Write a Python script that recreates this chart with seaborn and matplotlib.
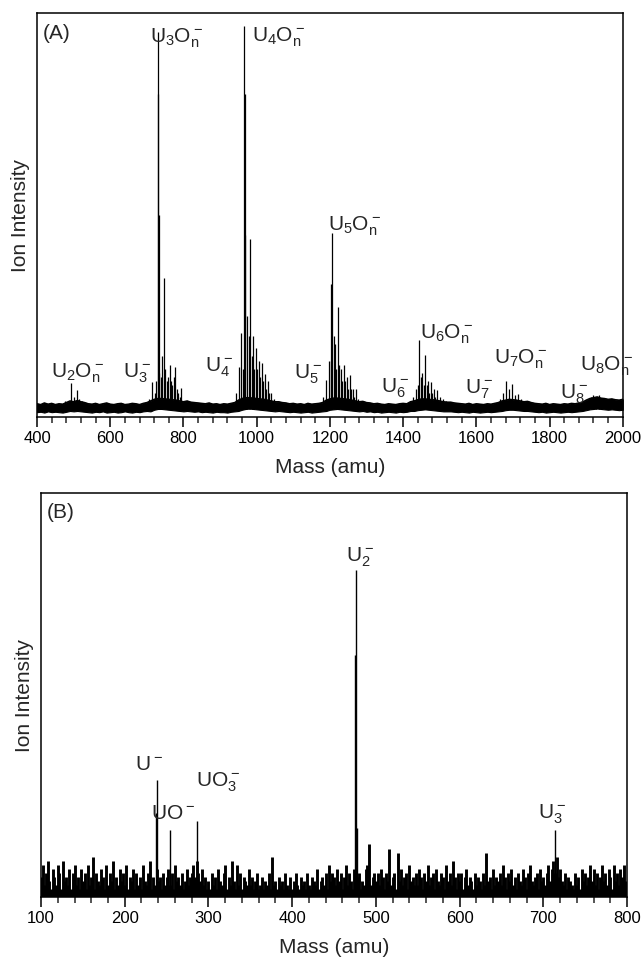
import matplotlib
matplotlib.use("Agg")
import numpy as np
import matplotlib.pyplot as plt
from matplotlib.ticker import MultipleLocator
import seaborn as sns

# ---- panel A : U_xO_n^- clusters (400-2000 amu) ----
# baseline band (lower / upper edge) read every 10 amu, units of 0.001 of full scale
a_base_mass = list(range(400, 2001, 10))
a_base_lo = [12, 13, 11, 14, 12, 13, 12, 11,
             13, 15, 14, 15, 14, 13,
             12, 11, 13, 12, 14, 11, 12, 13, 11, 12, 14, 12, 11, 13, 12, 14, 15,
             14, 18, 20, 20, 19, 18, 17, 16, 15, 14,
             15, 14, 13, 14, 12, 13, 12, 11, 13, 12, 12, 11, 13, 14,
             15, 18, 20, 21, 20, 19, 18, 17, 16, 15, 14,
             15, 14, 13, 12, 13, 12, 11, 12, 13, 11, 12, 13, 14,
             15, 18, 19, 20, 19, 18, 17, 16, 15, 14,
             15, 13, 14, 12, 13, 11, 12, 13, 12, 11, 13, 12, 13, 15,
             15, 17, 18, 19, 18, 17, 16, 15, 14, 14,
             14, 13, 12, 13, 12, 11, 13, 12, 11, 12, 13, 12, 13, 14,
             15, 17, 18, 18, 17, 16, 15,
             15, 14, 13, 12, 13, 11, 12, 13, 12, 11, 12, 13, 12, 13, 14, 15,
             17, 19, 20, 21, 20, 19, 18, 19, 18, 17, 18]
a_base_hi = [33, 31, 35, 32, 34, 31, 33, 32,
             36, 40, 38, 41, 38, 36,
             33, 32, 34, 31, 33, 35, 32, 31, 33, 34, 31, 32, 34, 33, 31, 34, 36,
             40, 44, 46, 46, 45, 44, 43, 42, 40, 38,
             40, 37, 36, 35, 34, 33, 35, 32, 33, 31, 33, 32, 34, 36,
             42, 46, 48, 48, 47, 46, 45, 44, 42, 40, 38,
             38, 36, 35, 33, 34, 32, 33, 31, 34, 32, 33, 34, 36,
             42, 45, 47, 47, 46, 45, 44, 42, 40, 38,
             39, 36, 35, 33, 34, 32, 31, 33, 32, 31, 33, 34, 33, 38,
             40, 43, 45, 45, 44, 43, 42, 40, 38, 37,
             37, 35, 34, 33, 32, 34, 31, 33, 32, 31, 33, 32, 34, 36,
             40, 42, 44, 43, 42, 40, 38,
             39, 36, 34, 33, 32, 34, 31, 33, 32, 31, 33, 32, 34, 33, 35, 37,
             42, 46, 48, 50, 47, 46, 44, 45, 43, 42, 44]

a_peak_mass = [476, 492, 500, 508, 516, 524,
               706, 714, 722, 726, 730, 731, 732, 734, 738, 742, 746, 750, 754, 758, 762,
               766, 770, 774, 778, 782, 786, 790, 794, 802,
               944, 952, 958, 962, 966, 967, 968, 974, 978, 982, 986, 990, 994, 998, 1002,
               1006, 1010, 1014, 1018, 1022, 1026, 1030, 1034, 1038, 1046,
               1182, 1190, 1198, 1202, 1204, 1206, 1210, 1214, 1218, 1222, 1226, 1230,
               1234, 1238, 1242, 1246, 1250, 1254, 1258, 1262, 1266, 1270, 1278,
               1420, 1428, 1436, 1440, 1444, 1448, 1452, 1456, 1460, 1464, 1468, 1472,
               1476, 1480, 1484, 1488, 1492, 1500, 1508, 1516,
               1658, 1666, 1674, 1682, 1690, 1698, 1706, 1714, 1722, 1730,
               1896, 1904, 1912, 1920, 1928, 1936, 1944, 1952]
a_peak_int = [0.040, 0.084, 0.050, 0.067, 0.045, 0.040,
              0.045, 0.087, 0.060, 0.090, 0.955, 0.800, 0.500, 0.110, 0.100, 0.150, 0.345,
              0.120, 0.090, 0.100, 0.130, 0.090, 0.080, 0.100, 0.125, 0.070, 0.060, 0.050,
              0.072, 0.040,
              0.060, 0.124, 0.208, 0.120, 0.968, 0.800, 0.450, 0.250, 0.200, 0.440, 0.150,
              0.200, 0.120, 0.170, 0.120, 0.140, 0.100, 0.135, 0.090, 0.107, 0.070, 0.090,
              0.060, 0.060, 0.045,
              0.050, 0.092, 0.140, 0.140, 0.330, 0.456, 0.200, 0.180, 0.120, 0.273, 0.130,
              0.120, 0.090, 0.129, 0.090, 0.100, 0.070, 0.104, 0.070, 0.070, 0.050, 0.069,
              0.045,
              0.035, 0.050, 0.070, 0.080, 0.190, 0.100, 0.110, 0.080, 0.154, 0.080, 0.090,
              0.060, 0.087, 0.060, 0.070, 0.050, 0.067, 0.050, 0.045, 0.040,
              0.035, 0.045, 0.060, 0.090, 0.070, 0.083, 0.055, 0.058, 0.045, 0.040,
              0.035, 0.040, 0.050, 0.054, 0.048, 0.054, 0.045, 0.040]

a_labels = [r'$\mathregular{U_2O_n^-}$', r'$\mathregular{U_3^-}$', r'$\mathregular{U_3O_n^-}$',
            r'$\mathregular{U_4^-}$', r'$\mathregular{U_4O_n^-}$', r'$\mathregular{U_5^-}$',
            r'$\mathregular{U_5O_n^-}$', r'$\mathregular{U_6^-}$', r'$\mathregular{U_6O_n^-}$',
            r'$\mathregular{U_7^-}$', r'$\mathregular{U_7O_n^-}$', r'$\mathregular{U_8^-}$',
            r'$\mathregular{U_8O_n^-}$']
a_label_x = [510, 672, 781, 896, 1061, 1140, 1268, 1378, 1520, 1608, 1722, 1868, 1955]
a_label_y = [0.099, 0.099, 0.927, 0.114, 0.930, 0.095, 0.463, 0.060, 0.195, 0.058, 0.132,
             0.045, 0.116]

# ---- panel B : 100-800 amu ----
# noise floor read every 2 amu, in units of 0.01 of full scale
b_noise_mass = list(range(100, 800, 2))
b_noise = [5, 8, 3, 6, 9, 4, 2, 7, 5, 3, 8, 6, 2, 9, 4, 5, 3, 7, 2, 6, 8, 3, 5, 2, 7,
           4, 6, 2, 8, 3, 5, 10, 2, 6, 4, 3, 7, 5, 2, 8, 3, 6, 4, 9, 2, 5, 3, 7, 4, 6,
           3, 8, 2, 5, 4, 7, 2, 6, 3, 5, 2, 8, 4, 3, 6, 9, 2, 5, 3, 7, 4, 5, 2, 6, 3,
           5, 7, 3, 6, 2, 8, 4, 5, 3, 6, 2, 4, 7, 3, 5, 6, 8, 5, 9, 6, 4, 7, 3, 5, 2,
           4, 2, 6, 3, 5, 2, 7, 4, 3, 6, 8, 2, 5, 3, 9, 4, 2, 8, 3, 6, 2, 5, 4, 3, 7,
           3, 5, 2, 4, 6, 2, 3, 5, 2, 4, 3, 6, 2, 10, 3, 4, 2, 5, 3, 4, 2, 6, 3, 2, 5,
           2, 4, 6, 3, 2, 5, 3, 4, 2, 6, 3, 2, 5, 4, 3, 7, 2, 4, 5, 3, 6, 2, 8, 4, 6,
           5, 3, 7, 4, 6, 2, 5, 8, 3, 6, 4, 2, 7, 3, 5, 6, 2, 4, 3, 7, 8, 13, 3, 5, 6,
           4, 6, 3, 7, 5, 2, 6, 4, 12, 3, 5, 6, 2, 11, 4, 7, 3, 5, 6, 2, 8, 4, 5, 3, 6,
           3, 7, 5, 2, 6, 4, 8, 3, 5, 6, 2, 7, 4, 3, 6, 5, 2, 8, 4, 6, 3, 9, 5, 2, 6,
           4, 6, 2, 5, 7, 3, 5, 4, 2, 6, 3, 5, 4, 2, 6, 3, 11, 4, 5, 2, 7, 3, 5, 4, 6,
           3, 8, 5, 2, 6, 4, 7, 3, 5, 2, 6, 4, 3, 7, 5, 2, 6, 8, 4, 3, 5, 6, 2, 7, 4,
           5, 3, 6, 8, 4, 7, 9, 6, 10, 5, 7, 4, 3, 6, 2, 5, 4, 3, 2, 6, 3, 5, 2, 7, 4,
           6, 3, 5, 8, 4, 7, 3, 6, 2, 5, 8, 4, 6, 3, 7, 5, 2, 8, 4, 6, 3, 7, 5, 8, 4]

b_peak_mass = [237, 238, 254, 286, 475, 476, 477, 714]
b_peak_int = [0.207, 0.289, 0.165, 0.188, 0.600, 0.810, 0.170, 0.165]

b_labels = [r'$\mathregular{U^-}$', r'$\mathregular{UO^-}$', r'$\mathregular{UO_3^-}$',
            r'$\mathregular{U_2^-}$', r'$\mathregular{U_3^-}$']
b_label_x = [229, 258, 312, 481, 710]
b_label_y = [0.314, 0.194, 0.273, 0.830, 0.194]

sns.set_theme(style="ticks")
plt.rcParams['font.family'] = ['Liberation Sans', 'DejaVu Sans']
plt.rcParams['mathtext.fontset'] = 'custom'
plt.rcParams['mathtext.rm'] = 'Liberation Sans'
plt.rcParams['axes.edgecolor'] = 'black'
plt.rcParams['axes.linewidth'] = 1.1

fig = plt.figure(figsize=(6.44, 9.64), dpi=100)
axA = fig.add_axes([0.0575, 0.5674, 0.9095, 0.4186])
axB = fig.add_axes([0.0637, 0.0695, 0.9099, 0.4190])

# panel A
lo = np.array(a_base_lo) / 1000.0
hi = np.array(a_base_hi) / 1000.0
axA.fill_between(a_base_mass, lo, hi, color='black', lw=0.8)
sns.lineplot(x=a_base_mass, y=hi, ax=axA, color='black', lw=1.0,
             estimator=None, sort=False)
axA.vlines(a_peak_mass, 0.02, a_peak_int, color='black', lw=0.9)
for lab, x, y in zip(a_labels, a_label_x, a_label_y):
    axA.text(x, y, lab, ha='center', va='baseline', fontsize=15, clip_on=False)
axA.text(0.009, 0.975, '(A)', transform=axA.transAxes, ha='left', va='top', fontsize=15)
axA.set_xlim(400, 2000)
axA.set_ylim(0, 1)
axA.set_xticks(range(400, 2001, 200))
axA.xaxis.set_minor_locator(MultipleLocator(40))

# panel B
axB.vlines(b_noise_mass, 0, np.array(b_noise) / 100.0, color='black', lw=2.1)
axB.vlines(b_peak_mass, 0, b_peak_int, color='black', lw=1.0)
for lab, x, y in zip(b_labels, b_label_x, b_label_y):
    axB.text(x, y, lab, ha='center', va='baseline', fontsize=15, clip_on=False)
axB.text(0.009, 0.975, '(B)', transform=axB.transAxes, ha='left', va='top', fontsize=15)
axB.set_xlim(100, 800)
axB.set_ylim(0, 1)
axB.set_xticks(range(100, 801, 100))
axB.xaxis.set_minor_locator(MultipleLocator(20))

for ax in (axA, axB):
    ax.set_yticks([])
    ax.set_xlabel('Mass (amu)', fontsize=15, labelpad=9)
    ax.set_ylabel('Ion Intensity', fontsize=15, labelpad=5)
    ax.tick_params(axis='x', which='major', direction='out', length=7, width=1.1,
                   labelsize=12, pad=3, colors='black')
    ax.tick_params(axis='x', which='minor', direction='out', length=4, width=1.1)
    for s in ax.spines.values():
        s.set_visible(True)
        s.set_color('black')

fig.savefig('out.png', dpi=100)
